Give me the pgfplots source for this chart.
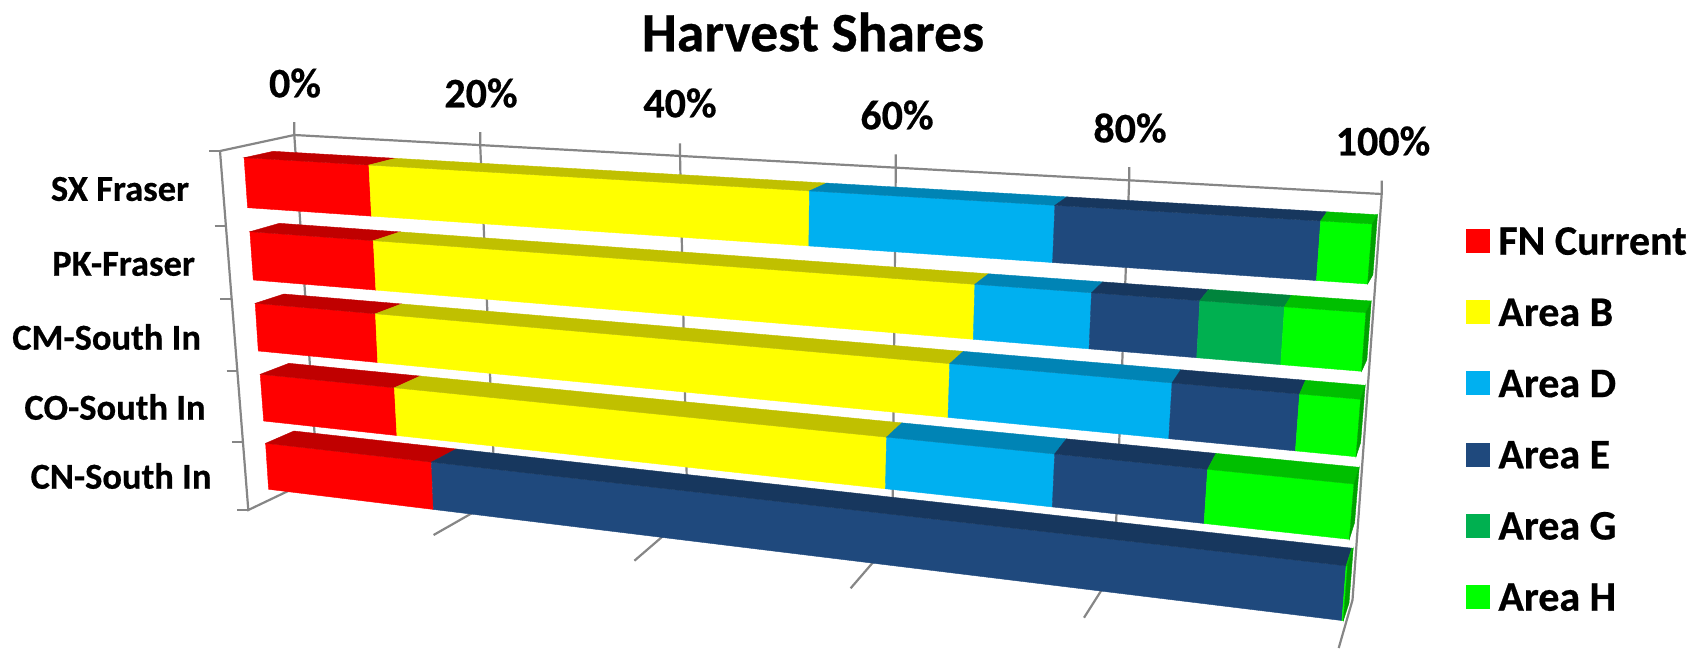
\documentclass[border=0pt]{standalone}
\usepackage{fontspec}
\setmainfont{Carlito}[BoldFeatures={FakeBold=0.5}]
\usepackage{pgfplots}
\usepackage{pgfplotstable}
\pgfplotsset{compat=1.18}

\definecolor{axisgray}{HTML}{868686}
\definecolor{fnc}{HTML}{FF0000}  \definecolor{fnt}{HTML}{C00000}
\definecolor{bc}{HTML}{FFFF00}   \definecolor{bt}{HTML}{C0C000}
\definecolor{dc}{HTML}{00B0F0}   \definecolor{dt}{HTML}{0084B5}
\definecolor{ec}{HTML}{1F497D}   \definecolor{et}{HTML}{17375E}
\definecolor{gc}{HTML}{00B050}   \definecolor{gt}{HTML}{00843C}
\definecolor{hc}{HTML}{00FF00}   \definecolor{ht}{HTML}{00BF00}
\definecolor{hs}{HTML}{00A000}

% harvest shares in percent
\pgfplotstableread{
FN   B    D    E    G   H
13.1 41.8 20.7 20.6 0   3.8
13.1 56.1 9.6  8.6  6.5 6.1
12.9 54.3 18.3 9.9  0   4.6
14.5 47.4 14.4 12.4 0   11.3
18.0 0    0    81.9 0   0.1
}\shares

% projection of the 3D bars: corners of each row in picture pixels
\def\ftlx{{244.1,249.9,255.2,260.2,265.6}}  \def\ftly{{157.7,231.7,303.3,374.3,443.3}}
\def\fblx{{247.6,253.3,258.3,263.7,268.6}}  \def\fbly{{207.7,280,351,421,489.3}}
\def\btlx{{273.2,279.3,283.9,288.9,293.9}}  \def\btly{{151.3,223.3,294,363.3,431}}
\def\ftrx{{1372.2,1365.9,1360.6,1353.9,1347.5}}  \def\ftry{{224,312.7,399.3,484,566}}
\def\fbrx{{1367.6,1361.6,1356,1349.3,1343.3}}    \def\fbry{{284,371.3,456.7,539.3,620.7}}
\def\btrx{{1377.5,1371.2,1365.2,1359.2,1353.2}}  \def\btry{{214.7,301,385.3,467.3,548.3}}
\def\persp{1.212} % foreshortening along the bars

\newcommand\corners[2]{% row, percent
  \pgfmathsetmacro\tval{(#2/100)/((#2/100)+\persp*(1-#2/100))}%
  \pgfmathsetmacro\ftx{\ftlx[#1]+\tval*(\ftrx[#1]-\ftlx[#1])}%
  \pgfmathsetmacro\fty{\ftly[#1]+\tval*(\ftry[#1]-\ftly[#1])}%
  \pgfmathsetmacro\fbx{\fblx[#1]+\tval*(\fbrx[#1]-\fblx[#1])}%
  \pgfmathsetmacro\fby{\fbly[#1]+\tval*(\fbry[#1]-\fbly[#1])}%
  \pgfmathsetmacro\btx{\btlx[#1]+\tval*(\btrx[#1]-\btlx[#1])}%
  \pgfmathsetmacro\bty{\btly[#1]+\tval*(\btry[#1]-\btly[#1])}%
}
\newcommand\segment[4]{% row, column, front colour, top colour
  \pgfplotstablegetelem{#1}{#2}\of\shares
  \let\share\pgfplotsretval
  \ifdim\share pt>0pt
    \corners{#1}{\cum}%
    \let\aftx\ftx \let\afty\fty \let\afbx\fbx \let\afby\fby \let\abtx\btx \let\abty\bty
    \pgfmathsetmacro\cum{\cum+\share}%
    \corners{#1}{\cum}%
    \addplot[fill=#3,draw=#3,line width=0.4pt,forget plot] coordinates
      {(\aftx,\afty) (\ftx,\fty) (\fbx,\fby) (\afbx,\afby)} --cycle;
    \addplot[fill=#4,draw=#4,line width=0.4pt,forget plot] coordinates
      {(\aftx,\afty) (\abtx,\abty) (\btx,\bty) (\ftx,\fty)} --cycle;
  \fi
}
\newcommand\drawrow[1]{%
  \def\cum{0}%
  \segment{#1}{FN}{fnc}{fnt}%
  \segment{#1}{B}{bc}{bt}%
  \segment{#1}{D}{dc}{dt}%
  \segment{#1}{E}{ec}{et}%
  \segment{#1}{G}{gc}{gt}%
  \segment{#1}{H}{hc}{ht}%
  % end cap
  \pgfmathsetmacro\bbx{\fbrx[#1]+\btrx[#1]-\ftrx[#1]}%
  \pgfmathsetmacro\bby{\fbry[#1]+\btry[#1]-\ftry[#1]}%
  \pgfmathsetmacro\fx{\ftrx[#1]}\pgfmathsetmacro\fy{\ftry[#1]}%
  \pgfmathsetmacro\gx{\btrx[#1]}\pgfmathsetmacro\gy{\btry[#1]}%
  \pgfmathsetmacro\kx{\fbrx[#1]}\pgfmathsetmacro\ky{\fbry[#1]}%
  \addplot[fill=hs,draw=hs,line width=0.4pt,forget plot] coordinates
    {(\fx,\fy) (\gx,\gy) (\bbx,\bby) (\kx,\ky)} --cycle;
}
\newcommand\legsq[1]{\addlegendimage{legend image code/.code={\fill[#1] (0pt,-10pt) rectangle (23pt,13pt);}}}

\begin{document}
\begin{tikzpicture}
\useasboundingbox (0,0) rectangle (1703pt,649pt);
\begin{axis}[
    at={(0,0)}, anchor=south west,
    scale only axis, width=1703pt, height=649pt,
    xmin=0, xmax=1703, ymin=0, ymax=649,
    y dir=reverse,
    hide axis, clip=false,
    legend cell align=left,
    legend style={
      at={(axis cs:1466,229)}, anchor=north west,
      draw=none, fill=none, inner sep=0pt, outer sep=0pt,
      font=\fontsize{42}{42}\selectfont\bfseries,
      row sep=45.5pt, column sep=9pt,
      nodes={inner sep=0pt,text height=25pt,text depth=0pt},
    },
]
% walls
\addplot[axisgray,line width=2.2pt,forget plot] coordinates {(220,151) (294.3,135) (1381.7,194)};
\addplot[axisgray,line width=2.2pt,forget plot] coordinates {(220,151) (248.3,510) (317.5,477)};
\addplot[axisgray,line width=2.2pt,forget plot] coordinates {(1381.7,180.7) (1381.7,194) (1352.5,600) (1338.7,648)};
% category ticks
\addplot[axisgray,line width=2.2pt,forget plot] coordinates {(209,151) (220,151)};
\addplot[axisgray,line width=2.2pt,forget plot] coordinates {(214.7,225.7) (225.5,225.7)};
\addplot[axisgray,line width=2.2pt,forget plot] coordinates {(220.4,299) (231.3,299)};
\addplot[axisgray,line width=2.2pt,forget plot] coordinates {(226.5,371) (237,371)};
\addplot[axisgray,line width=2.2pt,forget plot] coordinates {(231.9,441.7) (242.5,441.7)};
\addplot[axisgray,line width=2.2pt,forget plot] coordinates {(237.2,510) (248.3,510)};
% gridlines with their ticks on top and on the floor
\addplot[axisgray,line width=2.2pt,forget plot] coordinates {(294.3,122) (294.3,135) (317.5,477)};
\addplot[axisgray,line width=2.2pt,forget plot] coordinates {(480.2,132) (480.2,145) (495.4,500)};
\addplot[axisgray,line width=2.2pt,forget plot] coordinates {(680,143.3) (680,154) (687.5,515)};
\addplot[axisgray,line width=2.2pt,forget plot] coordinates {(895.8,154.3) (895.8,165.7) (892.3,540)};
\addplot[axisgray,line width=2.2pt,forget plot] coordinates {(1129.2,167) (1129.2,180) (1114.3,570)};
\addplot[axisgray,line width=2.2pt,forget plot] coordinates {(433.6,535) (495,500)};
\addplot[axisgray,line width=2.2pt,forget plot] coordinates {(634.4,560.7) (687.5,515)};
\addplot[axisgray,line width=2.2pt,forget plot] coordinates {(850.6,588.3) (892.3,540)};
\addplot[axisgray,line width=2.2pt,forget plot] coordinates {(1084,617.7) (1114.3,570)};
% bars, back row first
\drawrow{0}
\drawrow{1}
\drawrow{2}
\drawrow{3}
\drawrow{4}
% legend
\legsq{fnc} \addlegendentry{FN Current}
\legsq{bc}  \addlegendentry{Area B}
\legsq{dc}  \addlegendentry{Area D}
\legsq{ec}  \addlegendentry{Area E}
\legsq{gc}  \addlegendentry{Area G}
\legsq{hc}  \addlegendentry{Area H}
% texts
\node[font=\fontsize{55.5}{55.5}\selectfont\bfseries,inner sep=0pt] at (axis cs:813,32) {Harvest Shares};
\begin{scope}[every node/.style={font=\fontsize{42}{42}\selectfont\bfseries,inner sep=0pt}]
\node at (axis cs:295,83) {0\%};
\node at (axis cs:481,93) {20\%};
\node at (axis cs:680,103) {40\%};
\node at (axis cs:897,115) {60\%};
\node at (axis cs:1130,128) {80\%};
\node at (axis cs:1383,141) {100\%};
\end{scope}
\begin{scope}[every node/.style={font=\fontsize{36.5}{36.5}\selectfont\bfseries,inner sep=0pt}]
\node at (axis cs:120,189) {SX Fraser};
\node at (axis cs:123.6,264) {PK-Fraser};
\node at (axis cs:106.6,337) {CM-South In};
\node at (axis cs:115,407) {CO-South In};
\node at (axis cs:121,476) {CN-South In};
\end{scope}
\end{axis}
\end{tikzpicture}
\end{document}
